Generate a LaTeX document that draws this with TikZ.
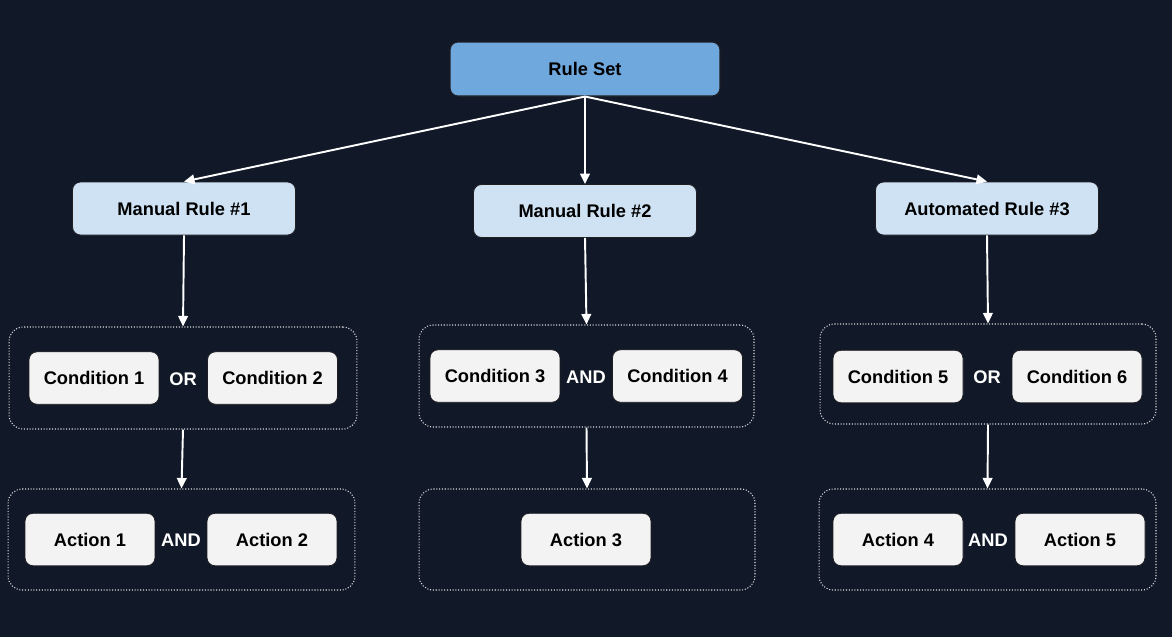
\documentclass[tikz,border=0pt]{standalone}
\usepackage{fontspec}
\setmainfont{Liberation Sans}
\usetikzlibrary{arrows.meta}

\definecolor{night}{RGB}{17,24,39}
\definecolor{setblue}{RGB}{111,168,220}
\definecolor{ruleblue}{RGB}{207,226,243}
\definecolor{itemgrey}{RGB}{243,243,243}
\definecolor{edgedark}{RGB}{30,30,35}

\begin{document}
\begin{tikzpicture}[x=0.02cm,y=-0.02cm,
  font=\fontsize{10.4}{12}\selectfont\bfseries,
  rootbox/.style={draw=edgedark,line width=0.6pt,fill=setblue,rounded corners=4.5pt,
    minimum width=5.4cm,minimum height=1.08cm,inner sep=0pt},
  rulebox/.style={draw=edgedark,line width=0.5pt,fill=ruleblue,rounded corners=4.5pt,
    minimum width=4.46cm,minimum height=1.06cm,inner sep=0pt},
  itembox/.style={draw=edgedark,line width=0.5pt,fill=itemgrey,rounded corners=4.5pt,
    minimum width=2.6cm,minimum height=1.05cm,inner sep=0pt},
  groupbox/.style={draw=white!85!night,densely dotted,line width=0.6pt,rounded corners=8pt,
    inner sep=0pt},
  joinword/.style={text=white,inner sep=1pt},
  link/.style={draw=white,line width=1.1pt,-{Triangle[length=6pt,width=5.5pt]}}]

% Background
\fill[night] (0,0) rectangle (1172,637);
\useasboundingbox (0,0) rectangle (1172,637);

%====================================================
% Top level
%====================================================
\node[rootbox] (rs) at (585,69) {Rule Set};

\node[rulebox] (r1) at (184,208.5) {Manual Rule \#1};
\node[rulebox] (r2) at (585,211) {Manual Rule \#2};
\node[rulebox] (r3) at (987,208.5) {Automated Rule \#3};

%====================================================
% Rule 1
%====================================================
\node[groupbox,minimum width=6.96cm,minimum height=2.04cm] (g1c) at (183,378) {};
\node[itembox] (c1) at (94,378) {Condition 1};
\node[itembox] (c2) at (272.5,378) {Condition 2};
\node[joinword] (or1) at (183,379) {OR};

\node[groupbox,minimum width=6.94cm,minimum height=2.02cm] (g1a) at (181.5,539.5) {};
\node[itembox] (a1) at (90,539.5) {Action 1};
\node[itembox] (a2) at (272,539.5) {Action 2};
\node[joinword] (and1) at (181,540.5) {AND};

%====================================================
% Rule 2
%====================================================
\node[groupbox,minimum width=6.7cm,minimum height=2.04cm] (g2c) at (586.5,376) {};
\node[itembox] (c3) at (495,376) {Condition 3};
\node[itembox] (c4) at (677.5,376) {Condition 4};
\node[joinword] (and2) at (586,377.5) {AND};

\node[groupbox,minimum width=6.72cm,minimum height=2.02cm] (g2a) at (587,539.5) {};
\node[itembox] (a3) at (586,539.5) {Action 3};

%====================================================
% Rule 3
%====================================================
\node[groupbox,minimum width=6.72cm,minimum height=2.0cm] (g3c) at (988,374) {};
\node[itembox] (c5) at (898,376.5) {Condition 5};
\node[itembox] (c6) at (1077,376.5) {Condition 6};
\node[joinword] (or3) at (987,377.5) {OR};

\node[groupbox,minimum width=6.74cm,minimum height=2.02cm] (g3a) at (987.5,539.5) {};
\node[itembox] (a4) at (898,539.5) {Action 4};
\node[itembox] (a5) at (1080,539.5) {Action 5};
\node[joinword] (and3) at (988,540.5) {AND};

%Arrows
\draw[link] (rs.south) -- (r1.north);
\draw[link] (rs.south) -- (r2.north);
\draw[link] (rs.south) -- (r3.north);

\draw[link] (r1.south) -- (g1c.north);
\draw[link] (g1c.south) -- (g1a.north);

\draw[link] (r2.south) -- (g2c.north);
\draw[link] (g2c.south) -- (g2a.north);

\draw[link] (r3.south) -- (g3c.north);
\draw[link] (g3c.south) -- (g3a.north);

\end{tikzpicture}
\end{document}
